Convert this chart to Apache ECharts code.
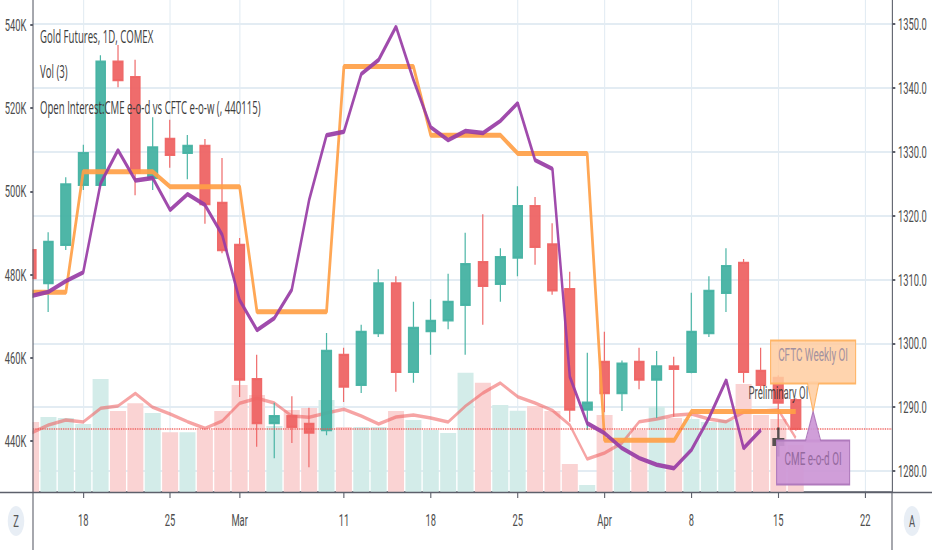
<!DOCTYPE html>
<html><head><meta charset="utf-8">
<script src="https://cdn.jsdelivr.net/npm/echarts@6.0.0/dist/echarts.min.js"></script>
<style>
html,body{margin:0;padding:0;overflow:hidden;background:#fff;width:932px;height:550px;}
#chart{width:1694px;height:550px;transform:scaleX(0.5501770956);transform-origin:0 0;}
</style></head><body><div id="chart"></div>
<script>
// ---- data ----
const days = ['2019-02-13','2019-02-14','2019-02-15','2019-02-18','2019-02-19','2019-02-20','2019-02-21','2019-02-22',
'2019-02-25','2019-02-26','2019-02-27','2019-02-28','2019-03-01','2019-03-04','2019-03-05','2019-03-06','2019-03-07','2019-03-08',
'2019-03-11','2019-03-12','2019-03-13','2019-03-14','2019-03-15','2019-03-18','2019-03-19','2019-03-20','2019-03-21','2019-03-22',
'2019-03-25','2019-03-26','2019-03-27','2019-03-28','2019-03-29','2019-04-01','2019-04-02','2019-04-03','2019-04-04','2019-04-05',
'2019-04-08','2019-04-09','2019-04-10','2019-04-11','2019-04-12','2019-04-15','2019-04-16','2019-04-17','2019-04-18','2019-04-19',
'2019-04-22','2019-04-23'];
const tickDates = ['2019-02-18','2019-02-25','2019-03-01','2019-03-11','2019-03-18','2019-03-25','2019-04-01','2019-04-08','2019-04-15','2019-04-22'];
const tickLabels = ['18','25','Mar','11','18','25','Apr','8','15','22'];
const opens  = [1314.6,1309.4,1315.4,1324.8,1324.8,1344.1,1341.7,1325.9,1332.0,1329.8,1330.9,1322.0,1315.4,1294.4,1287.5,1288.6,1287.4,1286.4,1298.2,1293.5,1301.6,1309.4,1295.5,1301.9,1303.6,1306.0,1312.7,1309.3,1313.4,1321.5,1315.5,1308.5,1289.6,1297.1,1292.2,1297.1,1294.3,1296.4,1295.5,1301.6,1307.9,1312.6,1295.7,1294.6,1291.1];
const closes = [1310.2,1315.9,1324.9,1329.8,1344.1,1341.2,1326.7,1330.7,1329.5,1330.9,1321.8,1314.6,1294.3,1287.5,1288.6,1286.9,1286.0,1298.8,1293.2,1301.8,1309.4,1295.5,1302.4,1303.5,1306.5,1312.4,1309.0,1313.5,1321.5,1315.1,1308.3,1289.6,1290.7,1292.2,1296.8,1294.3,1296.4,1296.0,1301.8,1308.2,1312.1,1295.5,1293.5,1290.7,1286.6];
const lows   = [1309.4,1304.9,1314.6,1324.0,1324.5,1340.1,1323.2,1324.0,1327.5,1325.7,1318.7,1314.1,1291.6,1283.8,1282.0,1284.4,1280.6,1285.6,1290.8,1292.2,1301.0,1292.4,1293.8,1298.2,1302.2,1298.2,1302.9,1306.5,1310.5,1312.3,1307.6,1287.7,1286.4,1289.2,1289.4,1292.8,1288.3,1288.5,1295.3,1301.0,1304.9,1293.8,1292.7,1286.4,1286.3];
const highs  = [1314.8,1317.4,1326.0,1331.1,1345.1,1346.7,1344.4,1335.4,1335.0,1332.6,1332.0,1329.0,1316.5,1298.2,1290.7,1291.7,1289.9,1301.6,1299.3,1302.9,1311.6,1310.5,1306.5,1306.9,1310.9,1317.3,1320.2,1314.9,1324.6,1322.9,1318.8,1311.2,1298.5,1301.8,1297.3,1299.3,1298.8,1297.9,1307.9,1310.5,1314.9,1313.2,1299.3,1295.0,1291.4];
const volumes = [210,225,222,204,339,243,266,237,179,179,186,243,321,291,198,246,252,276,195,195,195,243,216,186,177,358,328,261,244,258,243,84,21,231,186,186,256,222,219,210,216,324,231,219,141];
const volumeMA3 = [177,201,216,210,251,258,296,254,234,211,191,213,266,281,267,228,224,237,248,228,204,225,231,222,210,258,297,327,286,267,245,201,99,117,147,211,219,230,234,219,211,239,243,246,162];
const cmeOI = [474.8,475.8,478.4,480.5,501.9,509.9,502.6,503.2,495.5,499.3,496.7,489.5,473.8,466.6,469.5,476.3,497.9,513.5,514.3,528.2,531.6,539.6,526.8,515.4,512.3,514.5,514.0,516.9,521.2,507.5,505.4,455.4,444.2,441.8,438.2,435.8,434.2,433.4,437.8,445.4,454.6,438.2,442.6];
const cftcOI = [475.7,475.7,475.7,504.7,504.7,504.7,504.7,504.7,501.1,501.1,501.1,501.1,501.1,471.0,471.0,471.0,471.0,471.0,530.0,530.0,530.0,530.0,530.0,513.5,513.5,513.5,513.5,513.5,509.1,509.1,509.1,509.1,509.1,440.1,440.1,440.1,440.1,440.1,447.0,447.0,447.0,447.0,447.0,447.0,447.0];
const preliminaryDate = '2019-04-15';
const preliminaryOI = 439.7;
const calloutDate = '2019-04-17';
const calloutOI = 447.0;
const calloutTexts = ['CFTC Weekly OI', 'CME e-o-d OI'];
const oiTicks = [440,460,480,500,520,540];
const priceTicks = [1280,1290,1300,1310,1320,1330,1340,1350];
const titleLines = ['Gold Futures, 1D, COMEX', 'Vol (3)', 'Open Interest:CME e-o-d vs CFTC e-o-w (, 440115)'];

// ---- layout helpers ----
const W = 1694, R = 932 / W;
const px = v => v / R;           // reference px (horizontal) -> unscaled px
const FONT = 'Roboto, "Liberation Sans", sans-serif';
const UP = '#44b2a2', DOWN = '#ee6464';
const UP_L = '#d3ece9', DOWN_L = '#fad3d3';
const GRIDC = '#e3ecf3', AXC = '#5d606b', TXT = '#4d4d4d';

const tickIdx = tickDates.map(d => days.indexOf(d));
const candleData = opens.map((o, i) => [i, o, closes[i], lows[i], highs[i]]);
const volData = volumes.map((v, i) => ({value: [i, v], itemStyle: {color: closes[i] >= opens[i] ? UP_L : DOWN_L}}));

const calloutStyles = [
  {w: 85, h: 43, gap: 28, half: 5.5, dy: 15, fill: 'rgba(255,205,160,0.85)', stroke: '#ffb567', color: '#a3919f'},
  {w: 73, h: 44, gap: 29, half: 7.5, dy: 19, fill: 'rgba(204,150,214,0.92)', stroke: '#b07abd', color: '#94699e'}
];
function renderCallout(params, api) {
  const p = api.coord([api.value(0), api.value(1)]);
  const k = params.dataIndex, s = calloutStyles[k];
  const w = px(s.w), h = s.h, half = px(s.half);
  const top = k === 0 ? p[1] - s.gap - h : p[1] + s.gap;
  const baseY = k === 0 ? top + h : top;
  const inner = k === 0 ? baseY - 2 : baseY + 2;
  return {type: 'group', children: [
    {type: 'rect', shape: {x: p[0] - w / 2, y: top, width: w, height: h}, style: {fill: s.fill, stroke: s.stroke, lineWidth: 2}},
    {type: 'polygon', shape: {points: [[p[0] - half, inner], [p[0], p[1]], [p[0] + half, inner]]}, style: {fill: s.fill}},
    {type: 'polyline', shape: {points: [[p[0] - half, baseY], [p[0], p[1]], [p[0] + half, baseY]]}, style: {fill: null, stroke: s.stroke, lineWidth: 2}},
    {type: 'text', x: p[0], y: top + s.dy, style: {text: calloutTexts[k], fill: s.color, font: '18px ' + FONT, align: 'center', verticalAlign: 'middle'}}
  ]};
}

const chart = echarts.init(document.getElementById('chart'), null, {renderer: 'svg', width: W, height: 550});
chart.setOption({
  animation: false,
  backgroundColor: '#ffffff',
  grid: {left: px(33), right: W - px(892), top: 0, bottom: 58},
  xAxis: {
    type: 'value', min: 0.11, max: 49.54,
    axisLine: {show: true, onZero: false, lineStyle: {color: AXC, width: 1.5}},
    axisTick: {show: true, customValues: tickIdx, length: 6, lineStyle: {color: AXC, width: 2}},
    axisLabel: {customValues: tickIdx, formatter: v => tickLabels[tickIdx.indexOf(Math.round(v))], color: TXT, fontFamily: FONT, fontSize: 17, margin: 19},
    splitLine: {show: true, lineStyle: {color: GRIDC, width: 2}}
  },
  yAxis: [
    {type: 'value', position: 'left', min: 427.66, max: 546.01, z: 10,
     axisLine: {show: true, lineStyle: {color: AXC, width: 2}},
     axisTick: {show: true, customValues: oiTicks, length: 5, lineStyle: {color: AXC, width: 2}},
     axisLabel: {customValues: oiTicks, formatter: v => v + 'K', color: TXT, fontFamily: FONT, fontSize: 17, margin: 12},
     splitLine: {show: false}},
    {type: 'value', position: 'right', min: 1276.71, max: 1353.76,
     axisLine: {show: true, lineStyle: {color: AXC, width: 2}},
     axisTick: {show: true, customValues: priceTicks, length: 6, lineStyle: {color: AXC, width: 2}},
     axisLabel: {customValues: priceTicks, formatter: v => v.toFixed(1), color: TXT, fontFamily: FONT, fontSize: 17, margin: 11},
     splitLine: {show: true, lineStyle: {color: GRIDC, width: 2}}},
    {type: 'value', min: 0, max: 1476, show: false, splitLine: {show: false}}
  ],
  series: [
    {type: 'bar', name: 'Volume', xAxisIndex: 0, yAxisIndex: 2, barWidth: px(16), data: volData, z: 1, silent: true, clip: true},
    {type: 'line', name: 'Vol MA', yAxisIndex: 2, data: volumeMA3.map((v, i) => [i, v]), symbol: 'none', z: 2, clip: true,
     lineStyle: {color: 'rgba(238,90,90,0.55)', width: 3.5}},
    {type: 'candlestick', name: 'Gold Futures', yAxisIndex: 1, barWidth: 18, data: candleData, z: 3, clip: true,
     itemStyle: {color: UP, color0: DOWN, borderColor: UP, borderColor0: DOWN, borderWidth: 2.2, opacity: 0.95},
     markLine: {symbol: 'none', silent: true, label: {show: false}, data: [{yAxis: closes[closes.length - 1]}],
       lineStyle: {type: 'dotted', color: '#ef5350', width: 1.6}}},
    {type: 'line', name: 'CFTC e-o-w', yAxisIndex: 0, data: cftcOI.map((v, i) => [i, v]), symbol: 'none', z: 4, clip: true,
     lineStyle: {color: 'rgba(255,160,70,0.92)', width: 5}},
    {type: 'line', name: 'CME e-o-d', yAxisIndex: 0, data: cmeOI.map((v, i) => [i, v]), symbol: 'none', z: 5, clip: true,
     lineStyle: {color: 'rgba(152,60,165,0.92)', width: 4.5}},
    {type: 'scatter', name: 'Preliminary OI', yAxisIndex: 0, z: 6, data: [[days.indexOf(preliminaryDate), preliminaryOI]],
     symbol: 'path://M40,0 L60,0 L60,36 L100,36 L100,64 L60,64 L60,100 L40,100 L40,64 L0,64 L0,36 L40,36 Z',
     symbolSize: [px(12), 29], itemStyle: {color: '#2f2f2f'},
     label: {show: true, position: 'inside', offset: [0, -49], formatter: 'Preliminary OI', color: '#222', fontFamily: FONT, fontSize: 17.5}},
    {type: 'custom', name: 'Callouts', yAxisIndex: 0, z: 7, clip: false, renderItem: renderCallout,
     data: [[days.indexOf(calloutDate), calloutOI], [days.indexOf(calloutDate), calloutOI]]}
  ],
  graphic: [
    {type: 'rect', shape: {x: px(20), y: 0, width: px(13) - 1, height: 492}, style: {fill: '#ffffff'}, z: 9},
    {type: 'line', shape: {x1: 0, y1: 492.5, x2: W, y2: 492.5}, style: {stroke: AXC, lineWidth: 1.5}, z: 10},
    {type: 'line', shape: {x1: px(33), y1: 492, x2: px(33), y2: 550}, style: {stroke: AXC, lineWidth: 2}, z: 10},
    {type: 'line', shape: {x1: px(892), y1: 492, x2: px(892), y2: 550}, style: {stroke: AXC, lineWidth: 2}, z: 10},
    {type: 'circle', shape: {cx: px(16), cy: 521, r: 15}, style: {fill: '#e8eef5'}, z: 10},
    {type: 'circle', shape: {cx: px(912), cy: 521, r: 15}, style: {fill: '#e8eef5'}, z: 10},
    {type: 'text', x: px(16), y: 521, style: {text: 'Z', fill: '#555', font: '17px ' + FONT, align: 'center', verticalAlign: 'middle'}, z: 11},
    {type: 'text', x: px(912), y: 521, style: {text: 'A', fill: '#555', font: '17px ' + FONT, align: 'center', verticalAlign: 'middle'}, z: 11},
    {type: 'text', x: px(40), y: 36, style: {text: titleLines[0], fill: '#3c3c3c', font: '17.5px "Open Sans", sans-serif', verticalAlign: 'middle'}, z: 12},
    {type: 'text', x: px(40), y: 71, style: {text: titleLines[1], fill: '#3c3c3c', font: '17.5px "Open Sans", sans-serif', verticalAlign: 'middle'}, z: 12},
    {type: 'text', x: px(40), y: 107, style: {text: titleLines[2], fill: '#3c3c3c', font: '17.5px "Open Sans", sans-serif', verticalAlign: 'middle'}, z: 12}
  ]
});
</script></body></html>
